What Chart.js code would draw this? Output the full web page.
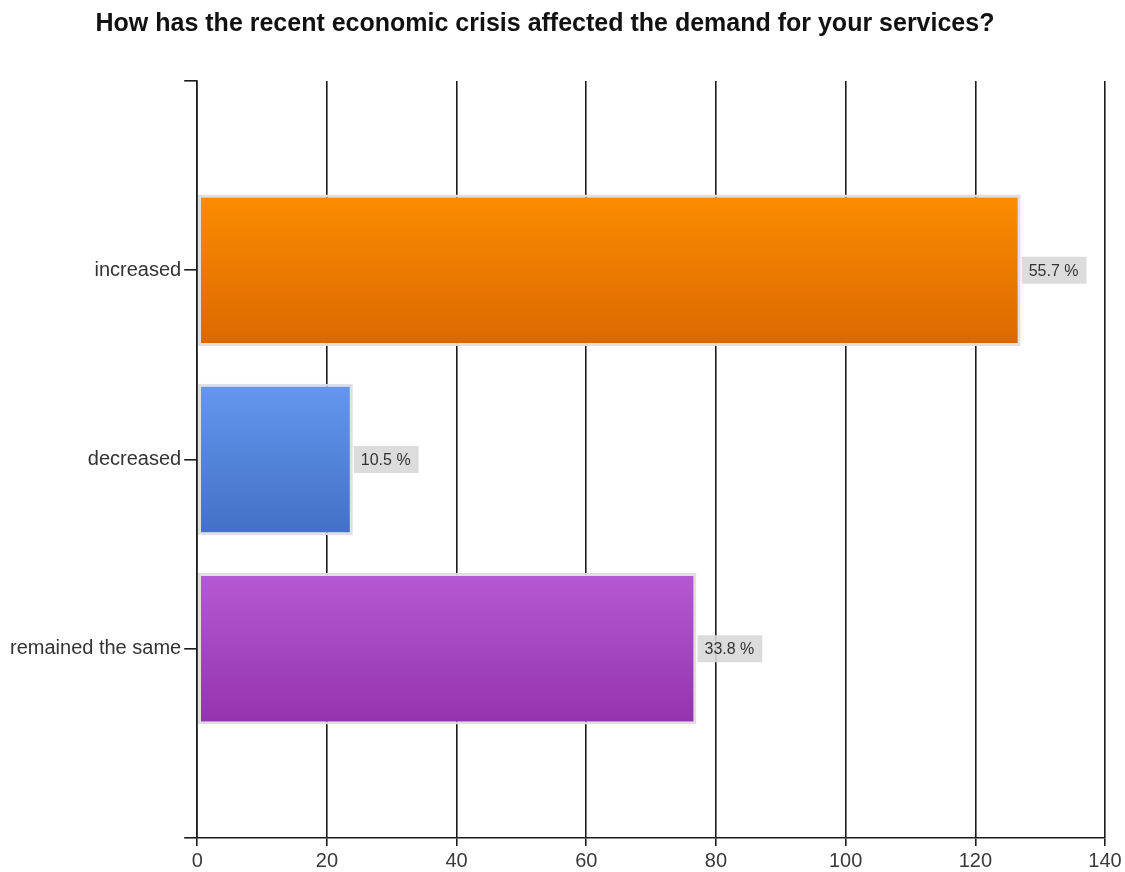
<!DOCTYPE html>
<html>
<head>
<meta charset="utf-8">
<script src="https://cdn.jsdelivr.net/npm/chart.js@4.4.1/dist/chart.umd.min.js"></script>
<style>
  html, body { margin: 0; padding: 0; background: #fff; }
  #wrap { position: relative; width: 1125px; height: 872px; }
</style>
</head>
<body>
<div id="wrap"><canvas id="chart" width="1125" height="872"></canvas></div>
<script>
// Survey question and answers
const chartTitle = 'How has the recent economic crisis affected the demand for your services?';
const categories = ['increased', 'decreased', 'remained the same'];
const responses = [127, 24, 77];
const xTicks = [0, 20, 40, 60, 80, 100, 120, 140];

// Top / bottom shades of each bar's vertical gradient
const topColors = ['#fb8d00', '#6796ee', '#b659d6'];
const bottomColors = ['#db6800', '#4270c6', '#9333ad'];

const total = responses.reduce((a, b) => a + b, 0);
const percentLabels = responses.map(v => (v / total * 100).toFixed(1) + ' %');

// empty slots above and below the answers give the axis its end ticks
const labels = [''].concat(categories, ['']);
const values = [null].concat(responses, [null]);

const FONT = '"Liberation Sans", Arial, sans-serif';

function barGradient(ctx) {
  const chart = ctx.chart;
  const i = ctx.dataIndex - 1;
  if (i < 0 || i >= categories.length) return 'rgba(0,0,0,0)';
  const yScale = chart.scales.y;
  if (!chart.chartArea || !yScale) return topColors[i];
  const step = Math.abs(yScale.getPixelForTick(1) - yScale.getPixelForTick(0));
  const c = yScale.getPixelForTick(ctx.dataIndex);
  const half = step * 0.8 / 2;
  const g = chart.ctx.createLinearGradient(0, c - half, 0, c + half);
  g.addColorStop(0, topColors[i]);
  g.addColorStop(1, bottomColors[i]);
  return g;
}

// percentage boxes to the right of each bar
const valueBoxes = {
  id: 'valueBoxes',
  afterDatasetsDraw(chart) {
    const ctx = chart.ctx;
    const meta = chart.getDatasetMeta(0);
    ctx.save();
    ctx.font = '16px ' + FONT;
    ctx.textBaseline = 'middle';
    ctx.textAlign = 'left';
    meta.data.forEach((bar, idx) => {
      const i = idx - 1;
      if (i < 0 || i >= categories.length) return;
      const text = percentLabels[i];
      const w = ctx.measureText(text).width + 15;
      const h = 27;
      const x = bar.x + 1;
      const y = bar.y - h / 2;
      ctx.fillStyle = 'rgba(216,216,216,0.9)';
      ctx.fillRect(x, y, w, h);
      ctx.fillStyle = '#333';
      ctx.fillText(text, x + 7, bar.y + 1);
    });
    ctx.restore();
  }
};

// heading above the plot
const heading = {
  id: 'heading',
  afterDraw(chart) {
    const ctx = chart.ctx;
    ctx.save();
    ctx.font = 'bold 25px ' + FONT;
    ctx.fillStyle = '#111';
    ctx.textAlign = 'center';
    ctx.textBaseline = 'middle';
    ctx.fillText(chartTitle, 545, 24);
    ctx.restore();
  }
};

new Chart(document.getElementById('chart'), {
  type: 'bar',
  data: {
    labels: labels,
    datasets: [{
      data: values,
      backgroundColor: barGradient,
      borderColor: 'rgba(222,222,222,0.95)',
      borderWidth: 3,
      borderSkipped: false,
      barPercentage: 1,
      categoryPercentage: 0.8
    }]
  },
  options: {
    indexAxis: 'y',
    responsive: false,
    animation: false,
    layout: { padding: { top: 81, right: 20, bottom: -4, left: 7 } },
    plugins: {
      legend: { display: false },
      tooltip: { enabled: false },
      title: { display: false }
    },
    scales: {
      x: {
        type: 'linear',
        min: xTicks[0],
        max: xTicks[xTicks.length - 1],
        afterBuildTicks: scale => { scale.ticks = xTicks.map(v => ({ value: v })); },
        grid: {
          color: '#1c1c1c',
          lineWidth: 1.6,
          drawOnChartArea: true,
          drawTicks: true,
          tickLength: 8,
          tickColor: '#1c1c1c'
        },
        border: { display: true, color: '#1c1c1c', width: 1.6 },
        ticks: {
          color: '#3a3a3a',
          font: { family: FONT, size: 20 },
          padding: 3,
          maxRotation: 0
        }
      },
      y: {
        type: 'category',
        offset: false,
        grid: {
          offset: false,
          drawOnChartArea: false,
          drawTicks: true,
          tickLength: 13,
          tickColor: '#1c1c1c',
          lineWidth: 1.6
        },
        border: { display: true, color: '#1c1c1c', width: 1.6 },
        ticks: {
          color: '#333',
          font: { family: FONT, size: 20 },
          padding: 3,
          autoSkip: false
        }
      }
    }
  },
  plugins: [valueBoxes, heading]
});
</script>
</body>
</html>
